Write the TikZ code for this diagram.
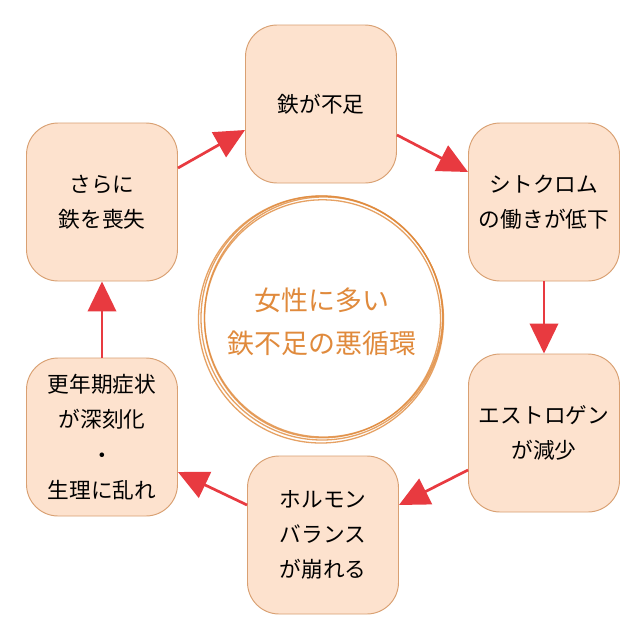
\documentclass[tikz,border=0pt]{standalone}
\usepackage{fontspec}
\setmainfont{Noto Sans CJK JP}
\usetikzlibrary{arrows.meta}
\definecolor{boxfill}{HTML}{FDE2CE}
\definecolor{boxline}{HTML}{D9A072}
\definecolor{arr}{HTML}{E83A40}
\definecolor{ring}{HTML}{E08A3C}
\begin{document}
\begin{tikzpicture}[x=0.03cm,y=-0.03cm,
  box/.style={draw=boxline,fill=boxfill,line width=0.8pt,rounded corners=0.95cm,minimum width=151*0.03cm,minimum height=158*0.03cm,align=center,font=\fontsize{18.5}{30}\selectfont,inner sep=0pt},
  ar/.style={draw=arr,line width=2.3pt,-{Triangle[length=0.9cm,width=0.85cm]}}]
\useasboundingbox[fill=white] (0,0) rectangle (640,640);
\node[box] (a) at (321,104) {鉄が不足};
\node[box] (b) at (544,202) {シトクロム\\の働きが低下};
\node[box] (c) at (544,433) {エストロゲン\\が減少};
\node[box] (d) at (323,535) {ホルモン\\バランス\\が崩れる};
\node[box] (e) at (102,437) {更年期症状\\が深刻化\\・\\生理に乱れ};
\node[box] (f) at (102,202) {さらに\\鉄を喪失};
\foreach \dx/\dy/\r in {0/0/121,1.5/-1/119,-1/1.5/122.5,0.5/0.8/118}
  \draw[ring,line width=1.1pt,opacity=0.8] (322+\dx,318+\dy) ellipse ({\r*0.03cm} and {(\r+1)*0.03cm});
\node[text=ring,align=center,font=\fontsize{23}{37}\selectfont] (t) at (322,322) {女性に多い\\鉄不足の悪循環};
\draw[ar] (a.east |- 0,135) -- (b.west |- 0,172);
\draw[ar] (b.south) -- (c.north);
\draw[ar] (c.west |- 0,470) -- (d.east |- 0,505);
\draw[ar] (d.west |- 0,505) -- (e.east |- 0,472);
\draw[ar] (e.north) -- (f.south);
\draw[ar] (f.east |- 0,168) -- (a.west |- 0,130);
\end{tikzpicture}
\end{document}
